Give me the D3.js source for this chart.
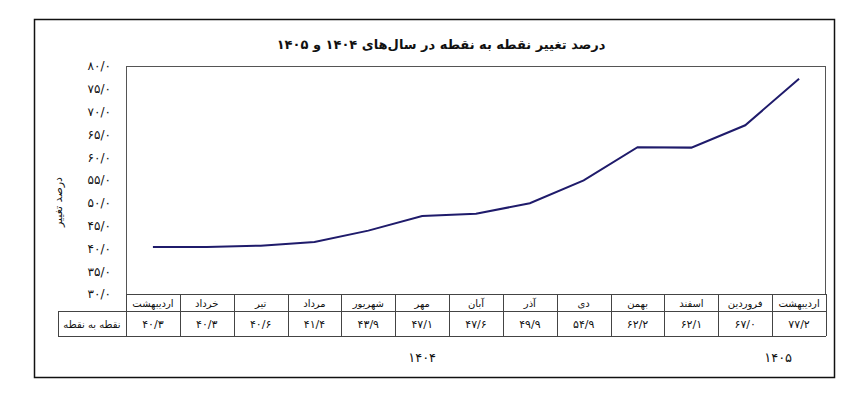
<!DOCTYPE html>
<meta charset="utf-8">
<style>
body { margin: 0; background: #fff; }
svg text { font-family: "DejaVu Sans", sans-serif; fill: #111; }
.axis path { display: none; }
.axis text { font-size: 12px; }
.grid line { stroke: #444; stroke-width: 1; }
</style>
<svg width="856" height="397"></svg>
<script src="https://d3js.org/d3.v7.min.js"></script>
<script>
// data
var months = ["اردیبهشت","خرداد","تیر","مرداد","شهریور","مهر","آبان","آذر","دی","بهمن","اسفند","فروردین","اردیبهشت"];
var values = [40.3, 40.3, 40.6, 41.4, 43.9, 47.1, 47.6, 49.9, 54.9, 62.2, 62.1, 67.0, 77.2];
var monthYear = ["۱۴۰۴","۱۴۰۴","۱۴۰۴","۱۴۰۴","۱۴۰۴","۱۴۰۴","۱۴۰۴","۱۴۰۴","۱۴۰۴","۱۴۰۴","۱۴۰۴","۱۴۰۵","۱۴۰۵"];
var yTicks = [30, 35, 40, 45, 50, 55, 60, 65, 70, 75, 80];
var title = "درصد تغییر نقطه به نقطه در سال‌های ۱۴۰۴ و ۱۴۰۵";
var yLabel = "درصد تغییر";
var rowLabel = "نقطه به نقطه";

var faDigits = "۰۱۲۳۴۵۶۷۸۹";
function fa(v) {
  return v.toFixed(1).replace(".", "/").replace(/\d/g, function(d) { return faDigits[+d]; });
}

var svg = d3.select("svg");
var pLeft = 126, pRight = 826, pTop = 66, pBottom = 294;
var row1 = 311, row2 = 336, labelLeft = 58;

var x = d3.scaleBand().domain(d3.range(months.length)).range([pLeft, pRight]);
var y = d3.scaleLinear().domain([30, 80]).range([pBottom, pTop]);

// outer frame
svg.append("rect")
  .attr("x", 34.5).attr("y", 19.5).attr("width", 800).attr("height", 358)
  .attr("fill", "none").attr("stroke", "#111").attr("stroke-width", 1.5);

svg.append("text")
  .attr("x", 441).attr("y", 49)
  .attr("text-anchor", "middle")
  .attr("direction", "rtl")
  .style("font-size", "13px").style("font-weight", "bold")
  .text(title);

// plot box
svg.append("rect")
  .attr("x", pLeft + 0.5).attr("y", pTop + 0.5)
  .attr("width", pRight - pLeft - 1).attr("height", pBottom - pTop)
  .attr("fill", "none").attr("stroke", "#555").attr("stroke-width", 1);

svg.append("g")
  .attr("class", "axis")
  .attr("transform", "translate(" + pLeft + ",0)")
  .call(d3.axisLeft(y).tickValues(yTicks).tickSize(0).tickPadding(15).tickFormat(fa))
  .selectAll("text").attr("direction", "ltr").attr("fill", "#222");

svg.append("text")
  .attr("transform", "translate(62,202) rotate(-90)")
  .attr("text-anchor", "middle")
  .attr("direction", "rtl")
  .style("font-size", "11px")
  .text(yLabel);

// line
var line = d3.line()
  .x(function(d, i) { return x(i) + x.bandwidth() / 2; })
  .y(function(d) { return y(d); });

svg.append("path")
  .datum(values)
  .attr("d", line)
  .attr("fill", "none")
  .attr("stroke", "#1f1b6b")
  .attr("stroke-width", 2);

// table
var grid = svg.append("g").attr("class", "grid");
grid.append("line").attr("x1", pLeft).attr("x2", pRight).attr("y1", pBottom + 0.5).attr("y2", pBottom + 0.5);
grid.append("line").attr("x1", labelLeft).attr("x2", pRight).attr("y1", row1 + 0.5).attr("y2", row1 + 0.5);
grid.append("line").attr("x1", labelLeft).attr("x2", pRight).attr("y1", row2 + 0.5).attr("y2", row2 + 0.5);
grid.append("line").attr("x1", labelLeft + 0.5).attr("x2", labelLeft + 0.5).attr("y1", row1).attr("y2", row2);
grid.selectAll(".sep")
  .data(d3.range(months.length + 1))
  .enter().append("line")
  .attr("class", "sep")
  .attr("x1", function(i) { return Math.round(pLeft + i * x.bandwidth()) + 0.5; })
  .attr("x2", function(i) { return Math.round(pLeft + i * x.bandwidth()) + 0.5; })
  .attr("y1", pBottom).attr("y2", row2);

svg.selectAll(".month")
  .data(months)
  .enter().append("text")
  .attr("class", "month")
  .attr("x", function(d, i) { return x(i) + x.bandwidth() / 2; })
  .attr("y", (pBottom + row1) / 2 + 4)
  .attr("text-anchor", "middle")
  .attr("direction", "rtl")
  .style("font-size", "10px")
  .text(function(d) { return d; });

svg.selectAll(".val")
  .data(values)
  .enter().append("text")
  .attr("class", "val")
  .attr("x", function(d, i) { return x(i) + x.bandwidth() / 2; })
  .attr("y", (row1 + row2) / 2 + 4)
  .attr("text-anchor", "middle")
  .attr("direction", "ltr")
  .style("font-size", "11px")
  .text(fa);

svg.append("text")
  .attr("x", (labelLeft + pLeft) / 2).attr("y", (row1 + row2) / 2 + 4)
  .attr("text-anchor", "middle")
  .attr("direction", "rtl")
  .style("font-size", "10px")
  .text(rowLabel);

// year labels under their months
var yearGroups = d3.groups(d3.range(months.length), function(i) { return monthYear[i]; });
svg.selectAll(".year")
  .data(yearGroups)
  .enter().append("text")
  .attr("class", "year")
  .attr("x", function(g) {
    var idx = g[1];
    return (x(idx[0]) + x(idx[idx.length - 1]) + x.bandwidth()) / 2 + (g[0] === "۱۴۰۵" ? 6 : 0);
  })
  .attr("y", 362)
  .attr("text-anchor", "middle")
  .attr("direction", "ltr")
  .style("font-size", "13px")
  .text(function(g) { return g[0]; });
</script>
